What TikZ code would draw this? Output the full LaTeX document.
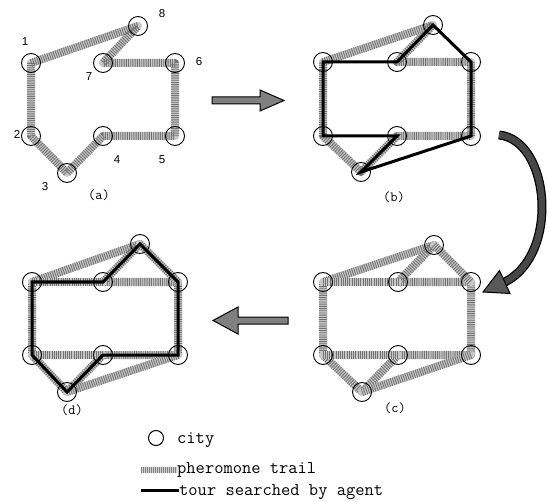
\documentclass[tikz,border=0pt]{standalone}
\usepackage{fontspec}
\newfontfamily\numfont{Liberation Sans}
\usetikzlibrary{backgrounds}
\begin{document}
\begin{tikzpicture}[x=1pt,y=-1pt,
  city/.style={circle,draw=black,line width=0.9pt,minimum size=19pt,inner sep=0pt},
  trail/.style={line width=8pt,draw=black!22,line cap=round,line join=round,
    postaction={draw=black!55,line width=8pt,line cap=butt,dash pattern=on 0.9pt off 1.3pt}},
  legtrail/.style={line width=6pt,draw=black!18,
    postaction={draw=black!50,line width=6pt,line cap=butt,dash pattern=on 0.8pt off 1.2pt}},
  tour/.style={line width=3pt,draw=black,line join=miter,line cap=round},
  num/.style={font=\numfont\fontsize{11.5}{12}\selectfont,inner sep=0pt},
  plabel/.style={font=\ttfamily\fontsize{14}{15}\selectfont,inner sep=0pt},
  legtext/.style={font=\ttfamily\fontsize{18}{19}\selectfont,inner sep=0pt,anchor=base west},
  bigarrow/.style={draw=black,line width=1pt,fill=black!50,line join=miter},
  curvearrow/.style={draw=black!72,line width=6.5pt},
  curveedge/.style={draw=black,line width=9pt}]
\useasboundingbox (0,0) rectangle (548,502);

% cities
\foreach \p/\n/\x/\y in {
  a/1/31/63, a/2/31/136, a/3/67/173, a/4/103/136, a/5/175/136, a/6/175/63, a/7/103/63, a/8/138/26,
  b/1/323/62, b/2/323/136, b/3/361/172, b/4/397/136, b/5/471/136, b/6/471/62, b/7/397/62, b/8/433/25,
  c/1/323/282, c/2/323/355, c/3/362/392, c/4/398/355, c/5/471/355, c/6/471/282, c/7/398/282, c/8/434/245,
  d/1/32/282, d/2/32/355, d/3/67/392, d/4/103/355, d/5/178/355, d/6/178/282, d/7/103/282, d/8/140/244}
  {\node[city] (\p\n) at (\x,\y) {};}

\begin{scope}[on background layer]
  \fill[white] (0,0) rectangle (548,502);
  % (a)
  \draw[trail] (a1.center) -- (a8.center) -- (a7.center) -- (a6.center) -- (a5.center) -- (a4.center) -- (a3.center) -- (a2.center) -- cycle;
  % (b)
  \draw[trail] (b1.center) -- (b8.center) -- (b7.center) -- (b6.center) -- (b5.center) -- (b4.center) -- (b3.center) -- (b2.center) -- cycle;
  \draw[tour] (b1.center) -- (b7.center) -- (b8.center) -- (b6.center) -- (b5.center) -- (b3.center) -- (b4.center) -- (b2.center) -- cycle;
  % (c)
  \draw[trail] (c1.center) -- (c8.center) -- (c7.center) -- (c6.center) -- (c5.center) -- (c4.center) -- (c3.center) -- (c2.center) -- cycle;
  \draw[trail] (c1.center) -- (c7.center);
  \draw[trail] (c8.center) -- (c6.center);
  \draw[trail] (c5.center) -- (c3.center);
  \draw[trail] (c4.center) -- (c2.center);
  % (d)
  \draw[trail] (d1.center) -- (d8.center) -- (d7.center) -- (d6.center) -- (d5.center) -- (d4.center) -- (d3.center) -- (d2.center) -- cycle;
  \draw[trail] (d1.center) -- (d7.center);
  \draw[trail] (d8.center) -- (d6.center);
  \draw[trail] (d5.center) -- (d3.center);
  \draw[trail] (d4.center) -- (d2.center);
  \draw[tour] (d1.center) -- (d7.center) -- (d8.center) -- (d6.center) -- (d5.center) -- (d4.center) -- (d3.center) -- (d2.center) -- cycle;
\end{scope}

% city numbers
\node[num] (n1) at (25,42) {1};
\node[num] (n2) at (17,134) {2};
\node[num] (n3) at (45,187) {3};
\node[num] (n4) at (117,160) {4};
\node[num] (n5) at (162,160) {5};
\node[num] (n6) at (199,62) {6};
\node[num] (n7) at (89,77) {7};
\node[num] (n8) at (162,14) {8};

% panel labels
\node[plabel] (la) at (99,195) {(a)};
\node[plabel] (lb) at (394,197) {(b)};
\node[plabel] (lc) at (395,408) {(c)};
\node[plabel] (ld) at (72,410) {(d)};

% arrows between panels
\coordinate (ab1) at (212,100.5);
\coordinate (ab2) at (284,100.5);
\draw[bigarrow] ([shift={(0,-3.5)}]ab1) -- ([shift={(-24,-3.5)}]ab2) -- ([shift={(-24,-10.5)}]ab2) -- (ab2)
  -- ([shift={(-24,10.5)}]ab2) -- ([shift={(-24,3.5)}]ab2) -- ([shift={(0,3.5)}]ab1) -- cycle;

\coordinate (cd1) at (288,320.5);
\coordinate (cd2) at (213,320.5);
\draw[bigarrow] ([shift={(0,-3.5)}]cd1) -- ([shift={(25,-3.5)}]cd2) -- ([shift={(25,-13.5)}]cd2) -- (cd2)
  -- ([shift={(25,13.5)}]cd2) -- ([shift={(25,3.5)}]cd2) -- ([shift={(0,3.5)}]cd1) -- cycle;

\coordinate (bc1) at (499,135);
\coordinate (bc2) at (505,282);
\coordinate (bc3) at (483,292);
\draw[curveedge] (bc1) .. controls (550,140) and (560,254) .. (bc2);
\draw[curvearrow] (bc1) .. controls (550,140) and (560,254) .. (bc2);
\draw[bigarrow,fill=black!65] (bc3) -- (510,293.5) -- (499.5,270.5) -- cycle;

% legend
\node[city,minimum size=15pt,line width=1pt] (lcity) at (156,438) {};
\node[legtext] (tcity) at (177,443) {city};
\node[legtext] (ttrail) at (177,473.5) {pheromone trail};
\node[legtext] (ttour) at (179,495) {tour searched by agent};
\coordinate (s1a) at (141,469.5);
\coordinate (s1b) at (177,469.5);
\draw[legtrail] (s1a) -- (s1b);
\coordinate (s2a) at (141,490.5);
\coordinate (s2b) at (179,490.5);
\draw[line width=3.5pt] (s2a) -- (s2b);
\end{tikzpicture}
\end{document}
